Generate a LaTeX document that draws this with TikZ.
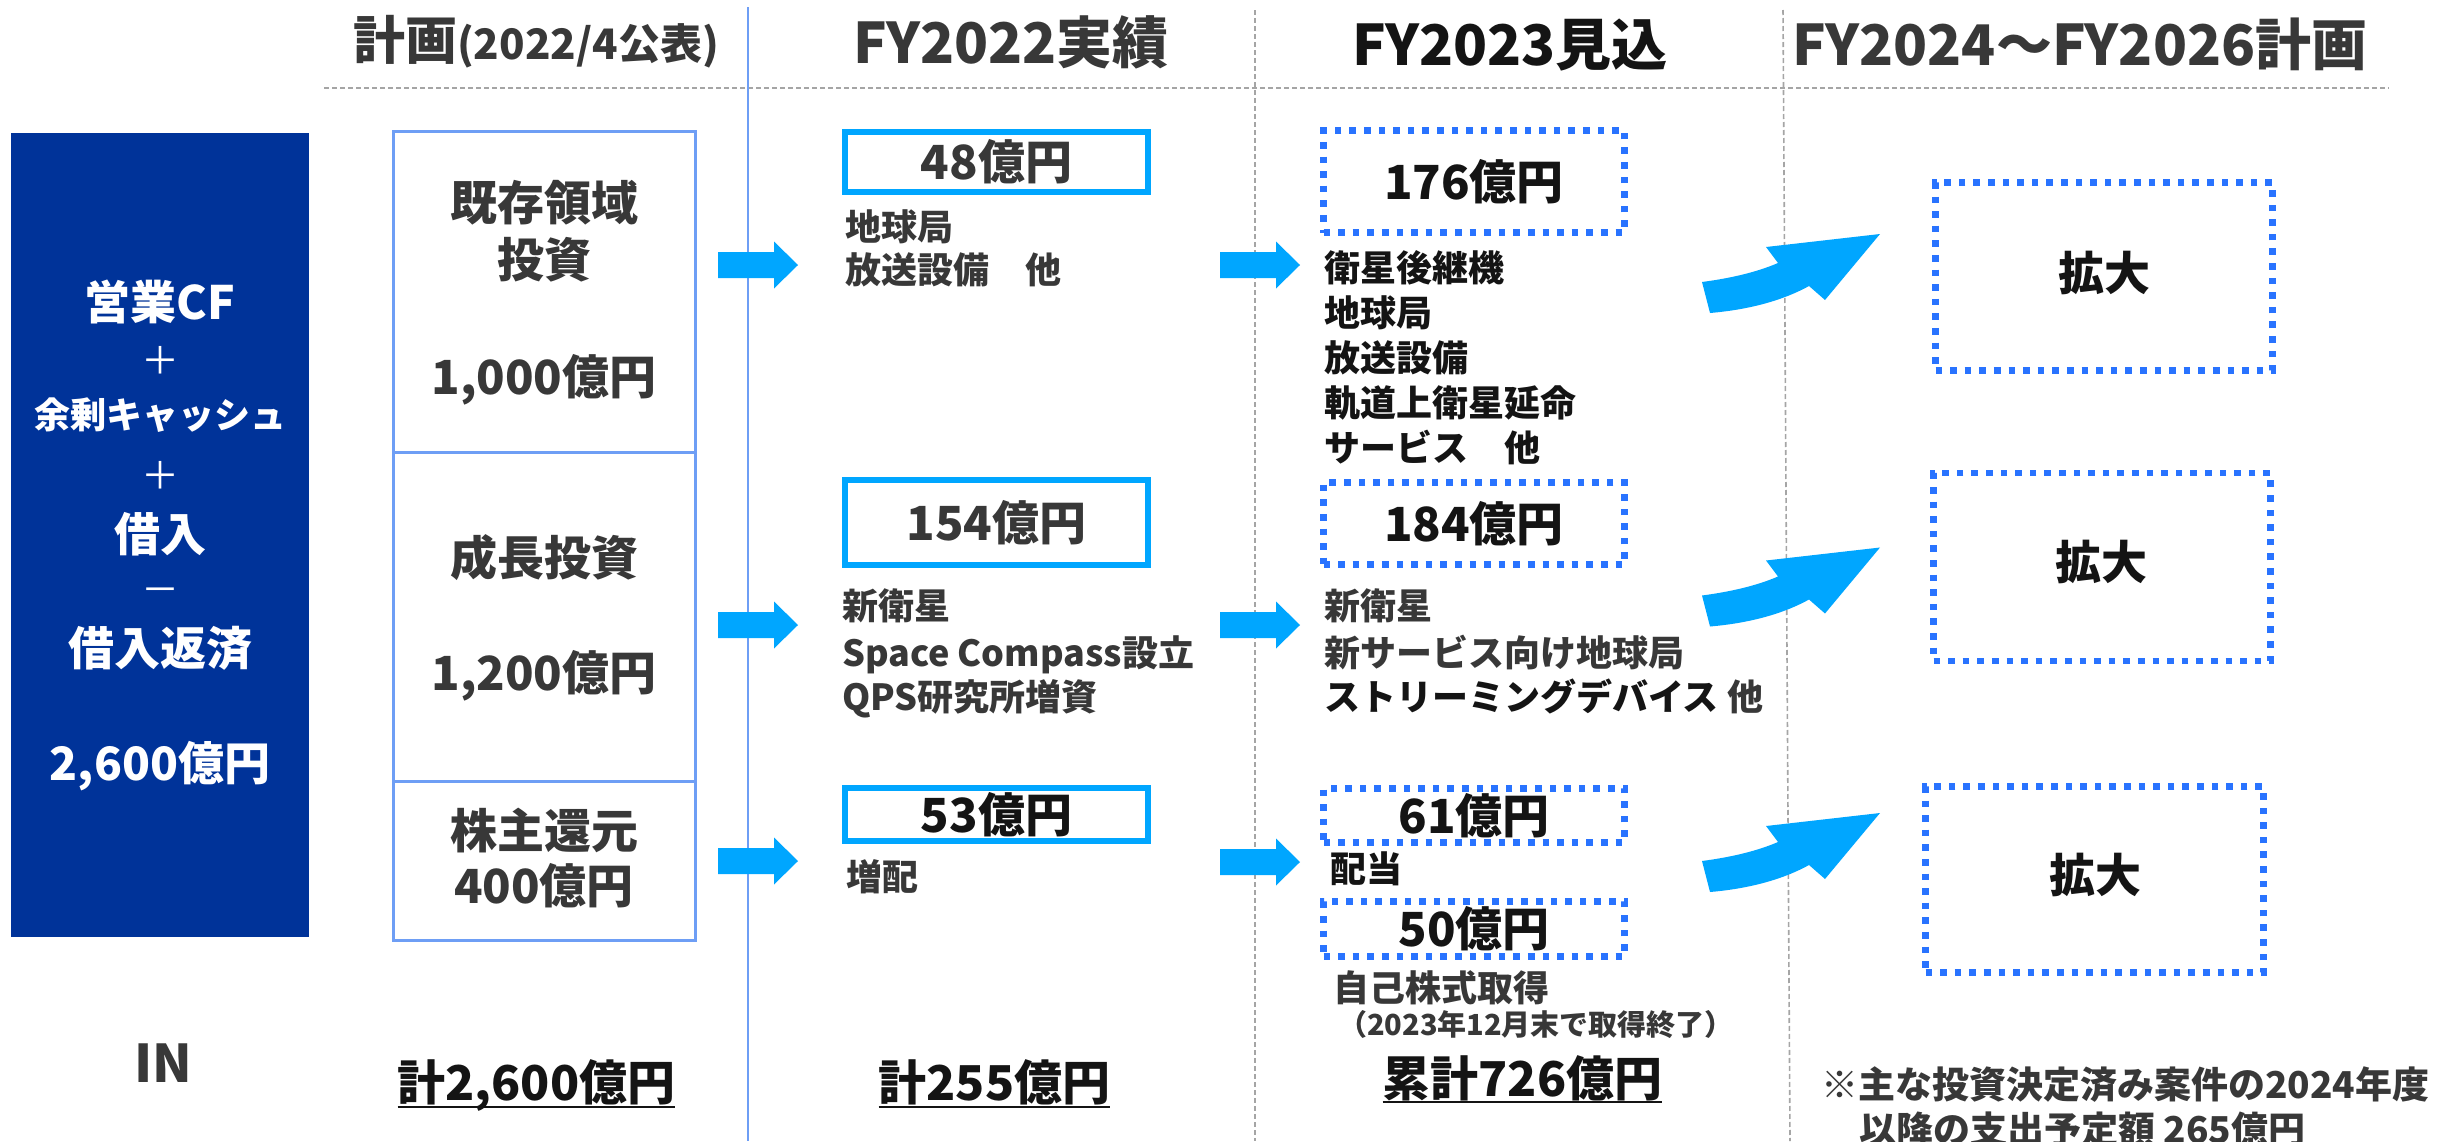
\documentclass[tikz,border=0pt]{standalone}
\usepackage{fontspec}
\setmainfont{Noto Sans CJK JP}
\usetikzlibrary{calc}
\definecolor{navy}{RGB}{0,51,153}
\definecolor{planblue}{RGB}{110,158,245}
\definecolor{cyanarrow}{RGB}{0,166,255}
\definecolor{dotblue}{RGB}{41,115,255}
\definecolor{txtgray}{RGB}{56,56,56}
\definecolor{txtdark}{RGB}{20,20,20}
\definecolor{linegray}{RGB}{165,165,165}
\newcommand\myfs[1]{\fontsize{#1pt}{#1pt}\selectfont}
\newcommand\flowarrow[1]{\fill[cyanarrow] ($(#1)+(0,-13)$) -- ++(56,0) -- ++(0,-10.5) -- ++(24,23.5) -- ++(-24,23.5) -- ++(0,-10.5) -- ++(-56,0) -- cycle;}
\newcommand\bendarrow[1]{\fill[cyanarrow, shift={(0,#1)}] (1702,282) .. controls (1732,278) and (1757,272) .. (1778,263) -- (1766,247) -- (1880,234) -- (1825,300) -- (1809,286) .. controls (1780,302) and (1745,310) .. (1710,313) -- cycle;}
\begin{document}
\begin{tikzpicture}[x=0.5pt,y=-0.5pt,
  every node/.style={inner sep=0pt,outer sep=0pt},
  sz/.style={font=\bfseries\myfs{#1},text height=0.85*#1pt,text depth=0.1*#1pt},
  plus/.style={font=\mdseries\myfs{19},text=white,text height=16.15pt,text depth=1.9pt},
  coltitle/.style={anchor=base,text=txtgray,font=\bfseries\myfs{28}},
  item/.style={sz=18,anchor=west},
  planbox/.style={draw=planblue,line width=1.5pt},
  solidbox/.style={draw=cyanarrow,line width=3pt},
  dotbox/.style={draw=dotblue,line width=3.2pt,dash pattern=on 3.3pt off 4pt},
  gridline/.style={draw=linegray,line width=0.8pt,dash pattern=on 2.5pt off 1.5pt},
  total/.style={anchor=base,text=txtdark,font=\bfseries\myfs{24}},
  uline/.style={line width=1.3pt,draw=txtdark}]
\useasboundingbox (0,0) rectangle (2445,1141);
\fill[white] (0,0) rectangle (2445,1141);

% guide lines
\draw[gridline] (324,88) -- (2389,88);
\draw[gridline] (1255,10) -- (1255,1141);
\draw[gridline] (1783,10) -- (1790,1141);
\draw[draw=planblue,line width=1pt] (748,7) -- (748,1141);

% column titles
\node[coltitle] (t1) at (536,59) {{\myfs{26}計画}{\myfs{21}(2022/4公表)}};
\node[coltitle] (t2) at (1011,63) {FY2022実績};
\node[coltitle,text=txtdark] (t3) at (1510,65) {FY2023見込};
\node[coltitle] (t4) at (2080,65) {FY2024～FY2026計画};

% cash flow box
\node[fill=navy,minimum width=149pt,minimum height=402pt] (cfbox) at (160,535) {};
\node[sz=23,text=white] (cf1) at (160,302) {営業CF};
\node[plus] (cf2) at (160,360) {＋};
\node[sz=18,text=white] (cf3) at (160,415) {余剰キャッシュ};
\node[plus] (cf4) at (160,475) {＋};
\node[sz=23,text=white] (cf5) at (160,534) {借入};
\node[plus] (cf6) at (160,589) {－};
\node[sz=23,text=white] (cf7) at (160,648) {借入返済};
\node[sz=23,text=white] (cf8) at (160,763) {2,600億円};

% plan boxes
\node[planbox,minimum width=151pt,minimum height=160.5pt] (plan1) at (544,291.5) {};
\node[planbox,minimum width=151pt,minimum height=164.5pt] (plan2) at (544,616.5) {};
\node[planbox,minimum width=151pt,minimum height=79.5pt] (plan3) at (544,860.5) {};
\node[sz=23.5,text=txtgray] (plan1a) at (544,203) {既存領域};
\node[sz=23.5,text=txtgray] (plan1b) at (544,260) {投資};
\node[sz=23.5,text=txtgray] (plan1c) at (544,377) {1,000億円};
\node[sz=23.5,text=txtgray] (plan2a) at (544,558) {成長投資};
\node[sz=23.5,text=txtgray] (plan2b) at (544,673) {1,200億円};
\node[sz=23.5,text=txtgray] (plan3a) at (544,831) {株主還元};
\node[sz=23.5,text=txtgray] (plan3b) at (544,886) {400億円};

% flow arrows
\coordinate (fa1) at (718,265);
\coordinate (fa2) at (718,625);
\coordinate (fa3) at (718,861);
\coordinate (fb1) at (1220,265);
\coordinate (fb2) at (1220,625);
\coordinate (fb3) at (1220,862);
\flowarrow{fa1}\flowarrow{fa2}\flowarrow{fa3}
\flowarrow{fb1}\flowarrow{fb2}\flowarrow{fb3}

% FY2022 results
\node[solidbox,minimum width=151.5pt,minimum height=30pt,sz=23.5,text=txtgray] (r1) at (996.5,162) {48億円};
\node[item,text=txtgray] (r1a) at (845,227) {地球局};
\node[item,text=txtgray] (r1b) at (845,270) {放送設備　他};
\node[solidbox,minimum width=151.5pt,minimum height=42.5pt,sz=23.5,text=txtgray] (r2) at (996.5,522.5) {154億円};
\node[item,text=txtgray] (r2a) at (842,606) {新衛星};
\node[item,text=txtgray] (r2b) at (842,653) {Space Compass設立};
\node[item,text=txtgray] (r2c) at (842,697) {QPS研究所増資};
\node[solidbox,minimum width=151.5pt,minimum height=26.5pt,sz=23.5,text=txtdark] (r3) at (996.5,814.5) {53億円};
\node[item,text=txtgray] (r3a) at (846,877) {増配};

% FY2023 forecast
\node[dotbox,minimum width=150.5pt,minimum height=51pt,sz=23.5,text=txtdark] (f1) at (1474,181.5) {176億円};
\node[item,text=txtdark] (f1a) at (1324,268) {衛星後継機};
\node[item,text=txtdark] (f1b) at (1324,313) {地球局};
\node[item,text=txtdark] (f1c) at (1324,358) {放送設備};
\node[item,text=txtdark] (f1d) at (1324,403) {軌道上衛星延命};
\node[item,text=txtdark] (f1e) at (1324,448) {サービス　他};
\node[dotbox,minimum width=150.5pt,minimum height=41pt,sz=23.5,text=txtdark] (f2) at (1474,523.5) {184億円};
\node[item,text=txtgray] (f2a) at (1324,606) {新衛星};
\node[item,text=txtgray] (f2b) at (1324,653) {新サービス向け地球局};
\node[item,text=txtdark] (f2c) at (1324,697) {ストリーミングデバイス {\color{txtgray}他}};
\node[dotbox,minimum width=150.5pt,minimum height=27pt,sz=23.5,text=txtdark] (f3) at (1474,815.5) {61億円};
\node[item,text=txtdark] (f3a) at (1330,869) {配当};
\node[dotbox,minimum width=150.5pt,minimum height=27.5pt,sz=23.5,text=txtdark] (f4) at (1474,929) {50億円};
\node[item,text=txtgray] (f4a) at (1333,988) {自己株式取得};
\node[sz=14.5,anchor=west,text=txtgray] (f4b) at (1338,1025) {（2023年12月末で取得終了）};

% FY2024-2026 plan
\bendarrow{0}
\bendarrow{313.5}
\bendarrow{579}
\node[dotbox,minimum width=168.5pt,minimum height=94pt] (p1) at (2104,276.5) {};
\node[sz=23,text=txtdark] (p1t) at (2104,273) {拡大};
\node[dotbox,minimum width=168.5pt,minimum height=94pt] (p2) at (2102,567) {};
\node[sz=23,text=txtdark] (p2t) at (2101,562) {拡大};
\node[dotbox,minimum width=169pt,minimum height=93pt] (p3) at (2094.5,879.5) {};
\node[sz=23,text=txtdark] (p3t) at (2095,875) {拡大};

% bottom row
\node[sz=26,text=txtgray] (in) at (163,1063) {IN};
\node[total] (tot1) at (536.5,1100) {計2,600億円};
\draw[uline] ($(tot1.base west)+(0,7)$) -- ($(tot1.base east)+(0,7)$);
\node[total] (tot2) at (994.5,1100) {計255億円};
\draw[uline] ($(tot2.base west)+(0,7)$) -- ($(tot2.base east)+(0,7)$);
\node[total] (tot3) at (1522.5,1096) {累計726億円};
\draw[uline] ($(tot3.base west)+(0,6)$) -- ($(tot3.base east)+(0,6)$);
\node[anchor=base west,text=txtgray,font=\bfseries\myfs{18.5}] (note1) at (1821,1098) {※主な投資決定済み案件の2024年度};
\node[anchor=base west,text=txtgray,font=\bfseries\myfs{18.5}] (note2) at (1859,1143) {以降の支出予定額 265億円};
\end{tikzpicture}
\end{document}
